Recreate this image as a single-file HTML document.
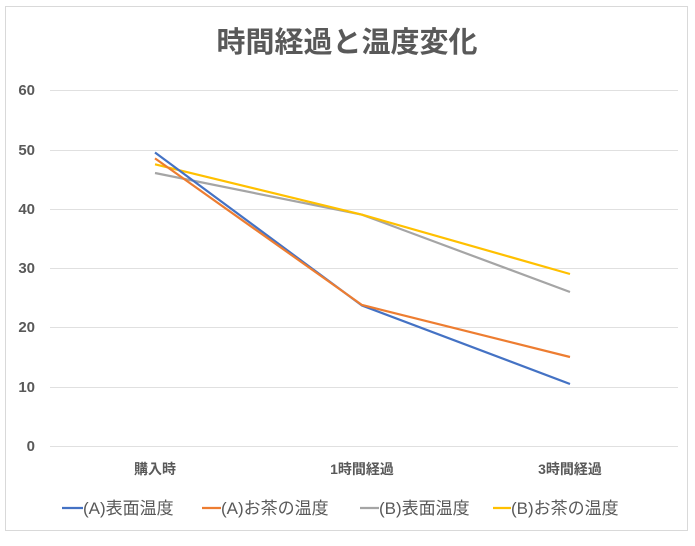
<!DOCTYPE html>
<html><head><meta charset="utf-8"><style>
body{margin:0;background:#fff;}
svg text{font-family:"Liberation Sans","Noto Sans CJK JP",sans-serif;}
</style></head><body>
<svg width="695" height="541" xmlns="http://www.w3.org/2000/svg">
<rect x="0" y="0" width="695" height="541" fill="#fff"/>
<rect x="5.5" y="6.5" width="682" height="524" fill="#fff" stroke="#d9d9d9"/>
<text x="347" y="52" text-anchor="middle" font-size="29" font-weight="bold" fill="#595959">時間経過と温度変化</text>
<g stroke="#e0e0e0" stroke-width="1">
<line x1="50" x2="678" y1="90.5" y2="90.5"/>
<line x1="50" x2="678" y1="150.5" y2="150.5"/>
<line x1="50" x2="678" y1="209.5" y2="209.5"/>
<line x1="50" x2="678" y1="268.5" y2="268.5"/>
<line x1="50" x2="678" y1="327.5" y2="327.5"/>
<line x1="50" x2="678" y1="387.5" y2="387.5"/>
<line x1="50" x2="678" y1="446.5" y2="446.5"/>
</g>
<g font-size="15" font-weight="bold" fill="#595959" text-anchor="end">
<text x="35" y="95">60</text><text x="35" y="155">50</text><text x="35" y="214">40</text>
<text x="35" y="273">30</text><text x="35" y="332">20</text><text x="35" y="392">10</text>
<text x="35" y="451">0</text>
</g>
<g font-size="14" font-weight="bold" fill="#595959" text-anchor="middle">
<text x="155" y="474">購入時</text><text x="362" y="474">1時間経過</text><text x="570" y="474">3時間経過</text>
</g>
<g fill="none" stroke-width="2.2">
<polyline stroke="#a5a5a5" points="155,173 362,214.7 570,292"/>
<polyline stroke="#ffc000" points="155,164.3 362,214.7 570,274"/>
<polyline stroke="#4472c4" points="155,152.5 362,305.5 570,384"/>
<polyline stroke="#ed7d31" points="155,158.4 362,305 570,357"/>
</g>
<g font-size="17" fill="#595959">
<line x1="62" x2="83" y1="508" y2="508" stroke="#4472c4" stroke-width="2.2"/><text x="83" y="514">(A)表面温度</text>
<line x1="202" x2="221" y1="508" y2="508" stroke="#ed7d31" stroke-width="2.2"/><text x="221" y="514">(A)お茶の温度</text>
<line x1="360" x2="379" y1="508" y2="508" stroke="#a5a5a5" stroke-width="2.2"/><text x="379" y="514">(B)表面温度</text>
<line x1="493" x2="511" y1="508" y2="508" stroke="#ffc000" stroke-width="2.2"/><text x="511" y="514">(B)お茶の温度</text>
</g>
</svg>
</body></html>
